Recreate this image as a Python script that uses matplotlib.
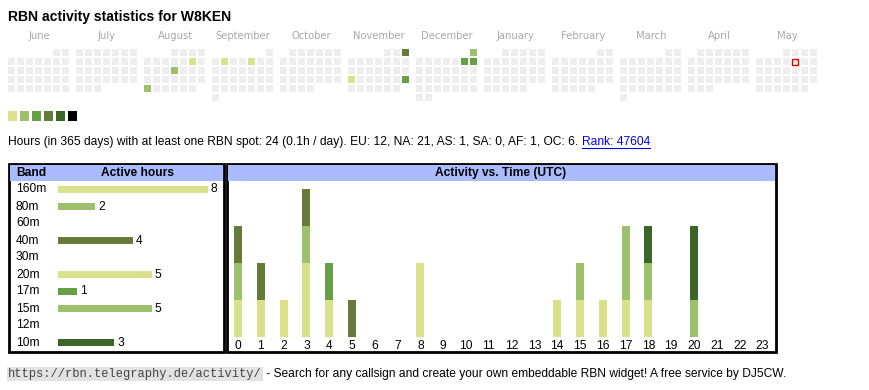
import datetime as dt
import matplotlib
matplotlib.use('Agg')
import matplotlib.pyplot as plt
from matplotlib.patches import Rectangle

callsign = 'W8KEN'
month_names = ['June', 'July', 'August', 'September', 'October', 'November',
               'December', 'January', 'February', 'March', 'April', 'May']
month_starts = [(2024, 6), (2024, 7), (2024, 8), (2024, 9), (2024, 10), (2024, 11),
                (2024, 12), (2025, 1), (2025, 2), (2025, 3), (2025, 4), (2025, 5)]
active_days = ['2024-08-10', '2024-08-15', '2024-08-26', '2024-09-03', '2024-09-06',
               '2024-11-03', '2024-11-18', '2024-11-24', '2024-12-01', '2024-12-07',
               '2024-12-08']
active_levels = [1, 2, 2, 1, 1, 4, 1, 3, 2, 3, 3]
today = '2025-05-09'
level_colors = ['#d9e28a', '#9cc06b', '#67a044', '#667a3a', '#3c6628', '#000000']

bands = ['160m', '80m', '60m', '40m', '30m', '20m', '17m', '15m', '12m', '10m']
band_hours = [8, 2, 0, 4, 0, 5, 1, 5, 0, 3]
band_colors = ['#d9e28a', '#9cc06b', '#d9e28a', '#667a3a', '#67a044',
               '#d9e28a', '#67a044', '#9cc06b', '#667a3a', '#3c6628']

hours = list(range(24))
# active hours per UTC hour, one row per band (same order as bands)
hour_counts = [
    [1, 1, 1, 2, 1, 0, 0, 0, 2, 0, 0, 0, 0, 0, 0, 0, 0, 0, 0, 0, 0, 0, 0, 0],  # 160m
    [1, 0, 0, 1, 0, 0, 0, 0, 0, 0, 0, 0, 0, 0, 0, 0, 0, 0, 0, 0, 0, 0, 0, 0],  # 80m
    [0] * 24,                                                                  # 60m
    [1, 1, 0, 1, 0, 1, 0, 0, 0, 0, 0, 0, 0, 0, 0, 0, 0, 0, 0, 0, 0, 0, 0, 0],  # 40m
    [0] * 24,                                                                  # 30m
    [0, 0, 0, 0, 0, 0, 0, 0, 0, 0, 0, 0, 0, 0, 1, 1, 1, 1, 1, 0, 0, 0, 0, 0],  # 20m
    [0, 0, 0, 0, 1, 0, 0, 0, 0, 0, 0, 0, 0, 0, 0, 0, 0, 0, 0, 0, 0, 0, 0, 0],  # 17m
    [0, 0, 0, 0, 0, 0, 0, 0, 0, 0, 0, 0, 0, 0, 0, 1, 0, 2, 1, 0, 1, 0, 0, 0],  # 15m
    [0] * 24,                                                                  # 12m
    [0, 0, 0, 0, 0, 0, 0, 0, 0, 0, 0, 0, 0, 0, 0, 0, 0, 0, 1, 0, 2, 0, 0, 0],  # 10m
]

summary = ('Hours (in 365 days) with at least one RBN spot: 24 (0.1h / day). '
           'EU: 12, NA: 21, AS: 1, SA: 0, AF: 1, OC: 6. ')
rank_text = 'Rank: 47604'
footer_url = 'https://rbn.telegraphy.de/activity/'
footer_text = (' - Search for any callsign and create your own embeddable RBN widget! '
               'A free service by DJ5CW.')

W, H = 870, 390
SANS = ['Liberation Sans', 'DejaVu Sans']
BODY = 12  # px


def pt(px):
    return px * 72 / 100


fig = plt.figure(figsize=(W / 100, H / 100), dpi=100)
bg = fig.add_axes([0, 0, 1, 1])
bg.set_xlim(0, W)
bg.set_ylim(H, 0)
bg.axis('off')

bg.text(8, 16.5, 'RBN activity statistics for ' + callsign, fontsize=pt(14),
        fontweight='bold', family=SANS, va='center', ha='left')

# calendar: one block per month, columns = weekday, rows = week of month
day_level = {dt.date.fromisoformat(d): l for d, l in zip(active_days, active_levels)}
today_d = dt.date.fromisoformat(today)
for m, (yr, mo) in enumerate(month_starts):
    x0 = 8 + 68 * m
    bg.text(x0 + 31, 36, month_names[m], fontsize=pt(10), color='#a8a8a8',
            family=['DejaVu Sans'], ha='center', va='center')
    first = dt.date(yr, mo, 1)
    d = first
    while d.month == mo:
        row = (d.day - 1 + first.weekday()) // 7
        col = d.weekday()
        lvl = day_level.get(d, 0)
        fc = level_colors[lvl - 1] if lvl else '#eeeeee'
        if d == today_d:
            bg.add_patch(Rectangle((x0 + col * 9 + 0.5, 49 + row * 9 + 0.5), 6, 6,
                                   facecolor='#eeeeee', edgecolor='#dd0000', lw=1))
        else:
            bg.add_patch(Rectangle((x0 + col * 9, 49 + row * 9), 7, 7,
                                   facecolor=fc, edgecolor='none'))
        d += dt.timedelta(days=1)

# colour legend
for i, c in enumerate(level_colors):
    bg.add_patch(Rectangle((8 + 12 * i, 111), 9.5, 9.5, facecolor=c, edgecolor='none'))

# summary line with rank link
t = bg.text(8, 142, summary, fontsize=pt(BODY), family=SANS, va='center', ha='left')
fig.canvas.draw()
rend = fig.canvas.get_renderer()
bb = t.get_window_extent(rend)
lt = bg.text(bb.x1, 142, rank_text, fontsize=pt(BODY), family=SANS, va='center',
             ha='left', color='#0000ee')
lb = lt.get_window_extent(rend)
bg.plot([lb.x0, lb.x1], [148, 148], color='#0000ee', lw=0.8)

# boxes + headers
for x0, x1 in [(8, 225), (226, 777)]:
    bg.add_patch(Rectangle((x0 + 1, 164), x1 - x0 - 2, 188, facecolor='white',
                           edgecolor='black', lw=2, zorder=1))
    bg.add_patch(Rectangle((x0 + 2, 165), x1 - x0 - 4, 16, facecolor='#aabbff',
                           edgecolor='none', zorder=2))
bg.text(16, 173, 'Band', fontsize=pt(BODY), fontweight='bold', family=SANS,
        va='center', ha='left', zorder=3)
bg.text(138, 173, 'Active hours', fontsize=pt(BODY), fontweight='bold', family=SANS,
        va='center', ha='center', zorder=3)
bg.text(501, 173, 'Activity vs. Time (UTC)', fontsize=pt(BODY), fontweight='bold',
        family=SANS, va='center', ha='center', zorder=3)

# band bars
px_per_h = 18.75
bax = fig.add_axes([58 / W, (H - 351) / H, 164 / W, 170 / H])
bax.patch.set_alpha(0)
bax.axis('off')
bax.set_xlim(0, 164 / px_per_h)
bax.set_ylim(len(bands) - 0.5, -0.5)
ypos = list(range(len(bands)))
bax.barh(ypos, band_hours, height=0.4, color=band_colors, linewidth=0)
for y, b, v in zip(ypos, bands, band_hours):
    bax.text(-42 / px_per_h, y, b, fontsize=pt(BODY), family=SANS, va='center',
             ha='left', clip_on=False)
    if v:
        bax.text(v + 3 / px_per_h, y, str(v), fontsize=pt(BODY), family=SANS,
                 va='center', ha='left', clip_on=False)

# activity vs time
px_per_hr = 22.8
px_per_unit = 37
hax = fig.add_axes([228 / W, (H - 337) / H, 547 / W, 156 / H])
hax.patch.set_alpha(0)
hax.set_frame_on(False)
hax.set_xlim(-10 / px_per_hr, 23 + 12.5 / px_per_hr)
hax.set_ylim(0, 156 / px_per_unit)
bottom = [0] * 24
for counts, c in zip(hour_counts, band_colors):
    hax.bar(hours, counts, bottom=bottom, width=8 / px_per_hr, color=c, linewidth=0)
    bottom = [a + b for a, b in zip(bottom, counts)]
hax.set_yticks([])
hax.set_xticks(hours)
hax.set_xticklabels([str(h) for h in hours], fontsize=pt(BODY), family=SANS)
hax.tick_params(axis='x', length=0, pad=2.5)

# footer
url = bg.text(8, 374, footer_url, fontsize=pt(12), family=['Liberation Mono'],
              color='#444444', va='center', ha='left',
              bbox=dict(boxstyle='square,pad=0.1', facecolor='#e2e2e2', edgecolor='none'))
fig.canvas.draw()
fb = url.get_window_extent(rend)
bg.text(fb.x1 + 1, 374, footer_text, fontsize=pt(BODY), family=SANS, va='center',
        ha='left')

fig.savefig('out.png', dpi=100)
